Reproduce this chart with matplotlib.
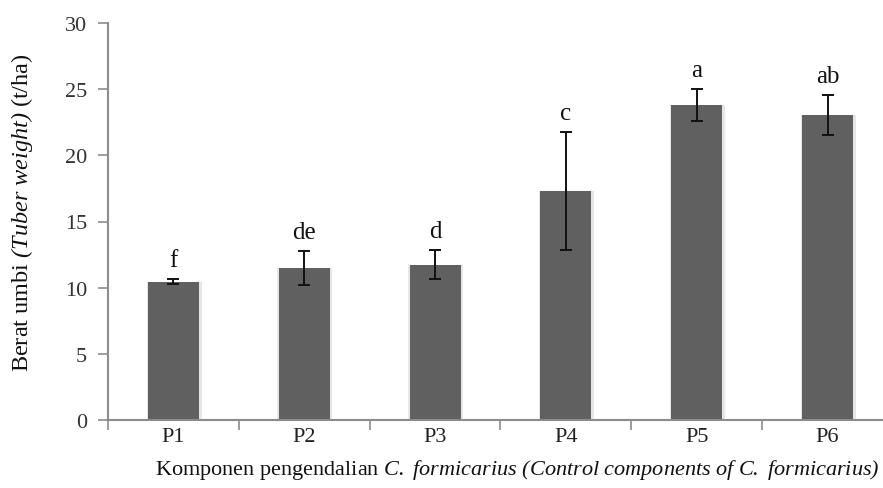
import numpy as np
import matplotlib.pyplot as plt

plt.rcParams['font.family'] = ['Liberation Serif', 'DejaVu Serif']
plt.rcParams['mathtext.fontset'] = 'custom'
plt.rcParams['mathtext.rm'] = 'Liberation Serif:italic'
plt.rcParams['mathtext.it'] = 'Liberation Serif:italic'

# data
treatments = ['P1', 'P2', 'P3', 'P4', 'P5', 'P6']
weights = [10.45, 11.47, 11.74, 17.31, 23.81, 23.05]
errors = [0.2, 1.3, 1.1, 4.45, 1.2, 1.5]
letters = ['f', 'de', 'd', 'c', 'a', 'ab']

fig = plt.figure(figsize=(8.83, 4.89), dpi=100)
# axes extends a bit past the right edge, as in the cropped original
ax = fig.add_axes([108 / 883, 1 - 421 / 489, 785 / 883, 397 / 489])

x = np.arange(len(treatments))
# soft shadow around each bar
ax.bar(x + 0.005, weights, width=0.42, color='#e6e6e6', zorder=1)
ax.bar(x, weights, width=0.39, color='#606060', zorder=2)
ax.errorbar(x, weights, yerr=errors, fmt='none', ecolor='#111111',
            elinewidth=1.4, capsize=4, capthick=1.4, zorder=3)

for xi, w, e, lab in zip(x, weights, errors, letters):
    ax.text(xi, w + e + 0.6, lab, ha='center', va='bottom',
            fontsize=18, color='#111111')

ax.set_xlim(-0.5, len(treatments) - 0.5)
ax.set_ylim(0, 30)
ax.set_yticks(range(0, 31, 5))

ax.set_xticks(x)
ax.set_xticklabels(treatments, fontsize=16, color='#222222')
ax.set_xticks(np.arange(-0.5, len(treatments), 1), minor=True)
ax.tick_params(axis='x', which='major', length=0, pad=5)
ax.tick_params(axis='x', which='minor', length=7, color='#8c8c8c', width=1.2)
ax.tick_params(axis='y', length=7, color='#8c8c8c', width=1.2,
               labelsize=16, labelcolor='#333333', pad=8)

for side in ['top', 'right']:
    ax.spines[side].set_visible(False)
for side in ['left', 'bottom']:
    ax.spines[side].set_color('#8c8c8c')
    ax.spines[side].set_linewidth(1.5)

ax.set_ylabel('Berat umbi $(Tuber\\ weight)$ (t/ha)', fontsize=17.5,
              color='#111111')
ax.yaxis.set_label_coords(-0.093, 0.524)

fig.text(517 / 883, 1 - 470 / 489,
         'Komponen pengendalian $C.\\ formicarius\\ (Control\\ components\\ of\\ C.\\ formicarius)$',
         ha='center', va='center', fontsize=16, color='#111111')

fig.savefig('out.png', dpi=100)
